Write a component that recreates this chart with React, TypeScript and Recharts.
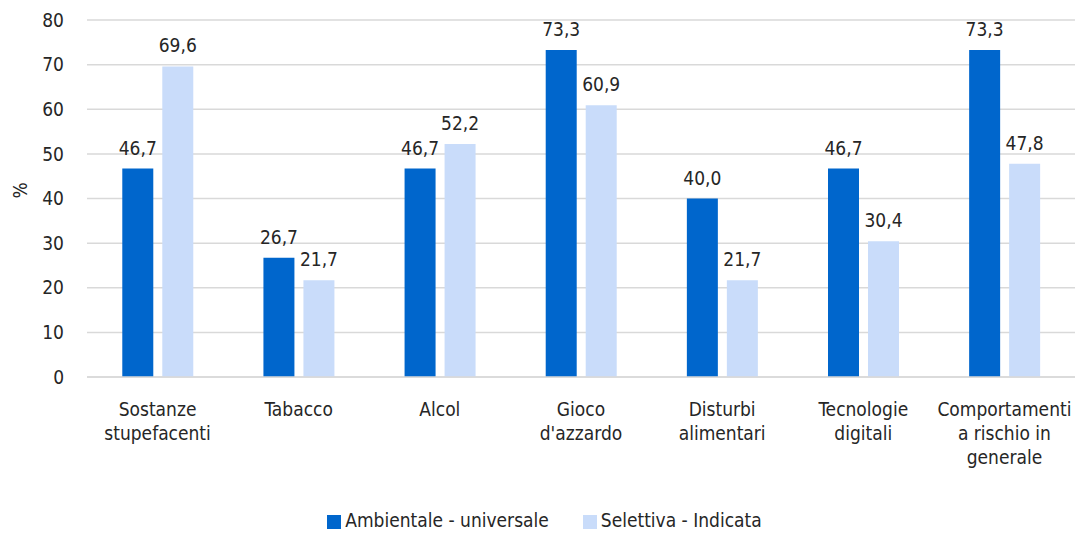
import React from 'react'
import {
  BarChart,
  Bar,
  XAxis,
  YAxis,
  CartesianGrid,
  Legend,
  LabelList,
} from 'recharts'

const categories = [
  'Sostanze\nstupefacenti',
  'Tabacco',
  'Alcol',
  "Gioco\nd'azzardo",
  'Disturbi\nalimentari',
  'Tecnologie\ndigitali',
  'Comportamenti\na rischio in\ngenerale',
]
const universale = [46.7, 26.7, 46.7, 73.3, 40.0, 46.7, 73.3]
const selettiva = [69.6, 21.7, 52.2, 60.9, 21.7, 30.4, 47.8]
const yTicks = [0, 10, 20, 30, 40, 50, 60, 70, 80]

const data = categories.map((name, i) => ({
  name,
  universale: universale[i],
  selettiva: selettiva[i],
}))

const FONT = "'Liberation Sans Narrow', 'DejaVu Sans Condensed', Roboto, sans-serif"
const TEXT = '#262626'

const fmt = (v: any) => Number(v).toFixed(1).replace('.', ',')

function CategoryTick({ x, y, payload }: any) {
  const lines = String(payload.value).split('\n')
  return (
    <text x={x} y={y} textAnchor="middle" fill={TEXT} fontSize={19} fontFamily={FONT}>
      {lines.map((l, i) => (
        <tspan key={i} x={x} dy={i === 0 ? 31 : 24}>
          {l}
        </tspan>
      ))}
    </text>
  )
}

export default function App() {
  return (
    <div style={{ position: 'absolute', left: 0, top: 0, background: '#fff' }}>
      <BarChart
        width={1076}
        height={533}
        data={data}
        margin={{ top: 20, right: 1, bottom: 104, left: 0 }}
        barCategoryGap="25%"
        barGap={9}
      >
        <CartesianGrid vertical={false} stroke="#d9d9d9" strokeWidth={1.5} />
        <XAxis
          dataKey="name"
          height={30}
          interval={0}
          tickLine={false}
          axisLine={{ stroke: '#d9d9d9', strokeWidth: 1.5 }}
          tick={<CategoryTick />}
        />
        <YAxis
          width={87}
          domain={[0, 80]}
          ticks={yTicks}
          tickLine={false}
          axisLine={false}
          tickMargin={17}
          tick={{ fill: TEXT, fontSize: 19, fontFamily: FONT }}
          label={{
            value: '%',
            angle: -90,
            position: 'insideLeft',
            offset: 20,
            fill: TEXT,
            fontSize: 19,
            fontFamily: FONT,
          }}
        />
        <Legend
          verticalAlign="bottom"
          align="center"
          iconType="square"
          iconSize={14}
          wrapperStyle={{ bottom: 2, paddingLeft: 12, fontFamily: FONT, fontSize: 19 }}
          formatter={(v: any, _e: any, i: number) => (
            <span style={{ color: TEXT, marginRight: i === 0 ? 24 : 0 }}>{v}</span>
          )}
        />
        <Bar
          dataKey="universale"
          name="Ambientale - universale"
          fill="#0066cc"
          isAnimationActive={false}
        >
          <LabelList
            dataKey="universale"
            position="top"
            offset={14}
            formatter={fmt}
            fill={TEXT}
            fontSize={19}
            fontFamily={FONT}
          />
        </Bar>
        <Bar
          dataKey="selettiva"
          name="Selettiva - Indicata"
          fill="#c9dcfa"
          isAnimationActive={false}
        >
          <LabelList
            dataKey="selettiva"
            position="top"
            offset={14}
            formatter={fmt}
            fill={TEXT}
            fontSize={19}
            fontFamily={FONT}
          />
        </Bar>
      </BarChart>
    </div>
  )
}
